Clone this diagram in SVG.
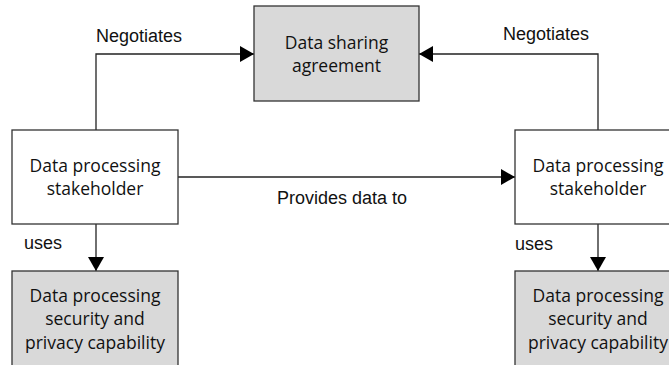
<svg xmlns="http://www.w3.org/2000/svg" width="669" height="365" viewBox="0 0 669 365">
<style>
.box{stroke:#333;stroke-width:1.3;fill:#fff}
.gray{fill:#d9d9d9}
.t{font-family:"Open Sans","Noto Sans",sans-serif;font-size:17.5px;fill:#111;text-anchor:middle}
.l{font-family:"Liberation Sans",Arial,sans-serif;font-size:18px;fill:#111}
.c{stroke:#222;stroke-width:1.3;fill:none}
</style>
<defs>
<marker id="ah" markerWidth="14" markerHeight="16" refX="14" refY="8" orient="auto" markerUnits="userSpaceOnUse">
<path d="M0,0 L14,8 L0,16 Z" fill="#000"/>
</marker>
</defs>
<rect width="669" height="365" fill="#fff"/>
<g id="connectors">
<path class="c" d="M96,130 V54 H254" marker-end="url(#ah)"/>
<path class="c" d="M598,130 V54 H419" marker-end="url(#ah)"/>
<path class="c" d="M178,177 H515" marker-end="url(#ah)"/>
<path class="c" d="M96,224 V271" marker-end="url(#ah)"/>
<path class="c" d="M598,224 V271" marker-end="url(#ah)"/>
<text class="l" x="96" y="42">Negotiates</text>
<text class="l" x="503" y="40">Negotiates</text>
<text class="l" x="277" y="204">Provides data to</text>
<text class="l" x="24" y="249">uses</text>
<text class="l" x="515" y="250">uses</text>
</g>
<g id="agreement">
<rect class="box gray" x="254" y="6" width="165" height="95"/>
<text class="t" x="336.5" y="49">Data sharing</text>
<text class="t" x="336.5" y="72">agreement</text>
</g>
<g id="stakeholder-left">
<rect class="box" x="12" y="130" width="166" height="94"/>
<text class="t" x="95" y="172">Data processing</text>
<text class="t" x="95" y="195">stakeholder</text>
</g>
<g id="stakeholder-right">
<rect class="box" x="515" y="130" width="166" height="94"/>
<text class="t" x="598" y="172">Data processing</text>
<text class="t" x="598" y="195">stakeholder</text>
</g>
<g id="capability-left">
<rect class="box gray" x="12" y="271" width="166" height="110"/>
<text class="t" x="95" y="302">Data processing</text>
<text class="t" x="95" y="325">security and</text>
<text class="t" x="95" y="349">privacy capability</text>
</g>
<g id="capability-right">
<rect class="box gray" x="515" y="271" width="166" height="110"/>
<text class="t" x="598" y="302">Data processing</text>
<text class="t" x="598" y="325">security and</text>
<text class="t" x="598" y="349">privacy capability</text>
</g>
</svg>
